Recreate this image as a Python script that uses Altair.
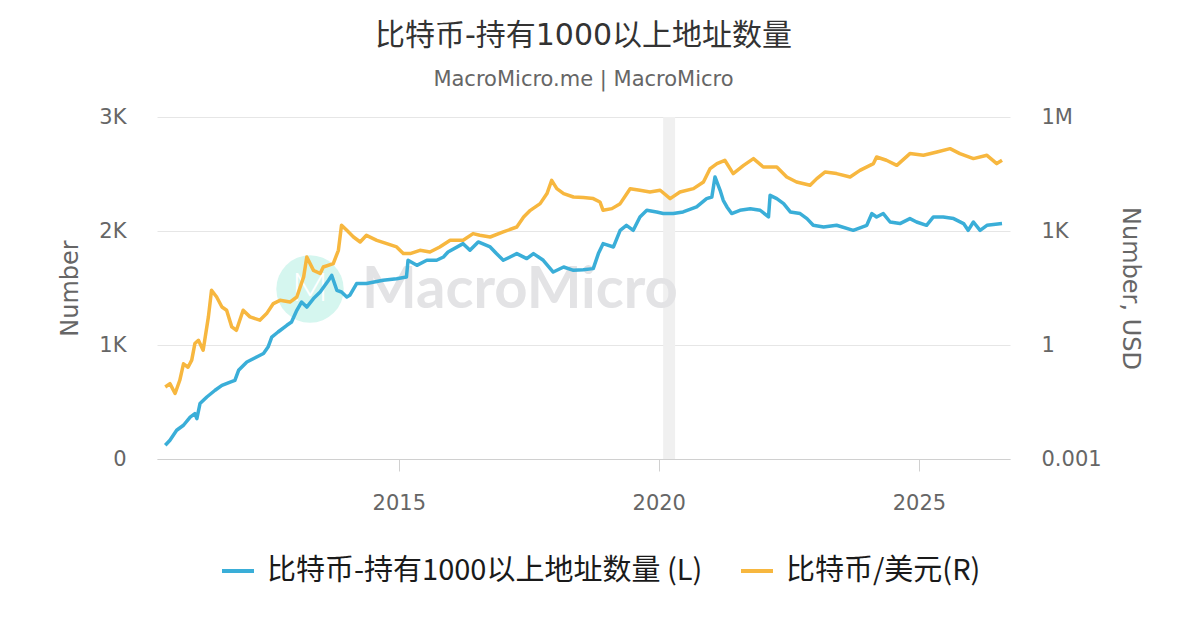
import altair as alt
import pandas as pd

# ---- data (decimal years) ----
addr_t = [2010.51, 2010.60, 2010.73, 2010.86, 2010.99, 2011.08, 2011.12, 2011.18, 2011.31, 2011.47,
          2011.60, 2011.76, 2011.85, 2011.92, 2012.08, 2012.27, 2012.40, 2012.49, 2012.56, 2012.68,
          2012.85, 2012.94, 2013.04, 2013.13, 2013.23, 2013.36, 2013.49, 2013.65, 2013.71, 2013.81,
          2013.90, 2014.00, 2014.06, 2014.19, 2014.38, 2014.70, 2014.96, 2015.15, 2015.18, 2015.35,
          2015.54, 2015.73, 2015.86, 2015.95, 2016.24, 2016.37, 2016.53, 2016.76, 2016.88, 2017.01,
          2017.14, 2017.27, 2017.46, 2017.59, 2017.78, 2017.97, 2018.17, 2018.36, 2018.55, 2018.74,
          2018.84, 2018.93, 2019.13, 2019.26, 2019.38, 2019.51, 2019.64, 2019.77, 2019.96, 2020.09,
          2020.28, 2020.47, 2020.73, 2020.92, 2021.02, 2021.08, 2021.18, 2021.24, 2021.31, 2021.40,
          2021.56, 2021.76, 2021.95, 2022.11, 2022.14, 2022.27, 2022.40, 2022.53, 2022.72, 2022.85,
          2022.97, 2023.17, 2023.42, 2023.74, 2024.00, 2024.10, 2024.19, 2024.32, 2024.45, 2024.64,
          2024.83, 2024.96, 2025.15, 2025.28, 2025.47, 2025.67, 2025.86, 2025.95, 2026.05, 2026.18,
          2026.31, 2026.60]
addr_v = [120, 164, 252, 296, 368, 398, 354, 486, 544, 603,
          646, 675, 690, 778, 851, 895, 925, 982, 1070, 1114,
          1173, 1202, 1304, 1377, 1333, 1407, 1465, 1568, 1611, 1480,
          1465, 1421, 1436, 1539, 1539, 1568, 1582, 1596, 1743, 1699,
          1743, 1743, 1772, 1816, 1889, 1831, 1904, 1860, 1802, 1743,
          1772, 1802, 1758, 1802, 1743, 1640, 1684, 1655, 1661, 1670,
          1802, 1889, 1860, 2006, 2050, 2006, 2123, 2182, 2167, 2153,
          2153, 2167, 2211, 2284, 2298, 2474, 2357, 2269, 2211, 2153,
          2182, 2196, 2182, 2123, 2313, 2284, 2240, 2167, 2153, 2109,
          2050, 2035, 2050, 2006, 2050, 2153, 2123, 2153, 2079, 2065,
          2109, 2079, 2050, 2123, 2123, 2109, 2065, 2006, 2079, 2006,
          2050, 2065]

price_t = [2010.51, 2010.60, 2010.70, 2010.79, 2010.86, 2010.95, 2011.02, 2011.08, 2011.15, 2011.24,
           2011.34, 2011.40, 2011.50, 2011.60, 2011.69, 2011.79, 2011.88, 2012.01, 2012.14, 2012.33,
           2012.46, 2012.59, 2012.72, 2012.91, 2013.04, 2013.17, 2013.23, 2013.36, 2013.49, 2013.55,
           2013.74, 2013.84, 2013.90, 2014.00, 2014.13, 2014.26, 2014.38, 2014.58, 2014.77, 2014.96,
           2015.09, 2015.22, 2015.41, 2015.60, 2015.79, 2015.99, 2016.24, 2016.43, 2016.56, 2016.76,
           2017.01, 2017.27, 2017.40, 2017.53, 2017.72, 2017.85, 2017.94, 2018.04, 2018.17, 2018.36,
           2018.55, 2018.74, 2018.87, 2018.93, 2019.10, 2019.26, 2019.45, 2019.64, 2019.83, 2020.03,
           2020.22, 2020.41, 2020.67, 2020.86, 2020.99, 2021.12, 2021.27, 2021.43, 2021.63, 2021.82,
           2022.01, 2022.27, 2022.46, 2022.65, 2022.91, 2023.04, 2023.20, 2023.42, 2023.68, 2023.87,
           2024.13, 2024.19, 2024.38, 2024.58, 2024.83, 2025.09, 2025.35, 2025.60, 2025.79, 2026.05,
           2026.31, 2026.50, 2026.60]
price_v = [0.0785, 0.096, 0.053, 0.118, 0.32, 0.26, 0.40, 1.09, 1.33, 0.73,
           5.5, 27.5, 18.3, 10, 8.2, 3.0, 2.44, 8.2, 5.5, 4.5,
           6.7, 12.3, 15, 13.5, 18.3, 62, 207, 92, 76, 113,
           139, 310, 1410, 1040, 695, 513, 770, 569, 466, 380,
           254, 254, 310, 280, 380, 569, 569, 855, 771, 695,
           942, 1275, 2335, 3500, 5250, 9640, 21600, 13000, 9640, 7850,
           7560, 7130, 5800, 3500, 3880, 5250, 13000, 11800, 10600, 11800,
           7130, 10600, 13000, 19500, 43900, 59400, 72600, 32400, 53500, 80300,
           48300, 48300, 26400, 19500, 15950, 23900, 35700, 32400, 26400, 39500,
           59400, 88500, 72600, 53500, 109000, 98200, 120000, 147000, 109000, 80300,
           98200, 59400, 72600]

series_names = ["比特币-持有1000以上地址数量 (L)", "比特币/美元(R)"]
series_colors = ["#3aaed8", "#f7b73f"]
band_start = ["2020-02-01"]
band_end = ["2020-04-25"]


def to_date(y):
    yr = int(y)
    d = pd.Timestamp(year=yr, month=1, day=1) + pd.Timedelta(days=(y - yr) * 365.25)
    return d.strftime("%Y-%m-%d")


addr_df = pd.DataFrame({"date": [to_date(t) for t in addr_t], "value": addr_v,
                        "series": series_names[0]})
price_df = pd.DataFrame({"date": [to_date(t) for t in price_t], "value": price_v,
                         "series": series_names[1]})
band_df = pd.DataFrame({"start": band_start, "end": band_end})

LATIN = "DejaVu Sans, Noto Sans CJK SC"
GRAY = "#666666"
X_DOMAIN = [alt.DateTime(year=2010, month=5, date=9), alt.DateTime(year=2026, month=10, date=3)]

x_enc = alt.X(
    "date:T",
    scale=alt.Scale(domain=X_DOMAIN),
    axis=alt.Axis(values=[alt.DateTime(year=2015, month=1, date=1),
                          alt.DateTime(year=2020, month=1, date=1),
                          alt.DateTime(year=2025, month=1, date=1)],
                  format="%Y", grid=False, tickSize=12, tickColor="#d0d0d0",
                  domainColor="#d0d0d0", labelPadding=21, labelFontSize=21,
                  labelColor=GRAY, labelFont=LATIN, title=None),
)

color_enc = alt.Color(
    "series:N",
    scale=alt.Scale(domain=series_names, range=series_colors),
    legend=alt.Legend(orient="none", legendX=63, legendY=436, direction="horizontal",
                      title=None, labelFontSize=29, labelFont="Noto Sans CJK SC",
                      labelColor="#1a1a1a", labelLimit=0, symbolType="stroke",
                      symbolSize=1024, symbolStrokeWidth=4, labelOffset=11, columnPadding=30),
)

band = alt.Chart(band_df).mark_rect(color="#f0f0f0").encode(
    x=alt.X("start:T", scale=alt.Scale(domain=X_DOMAIN)),
    x2="end:T",
)

wm_circle = alt.Chart(band_df).mark_circle(color="#d5f6ef", opacity=1).encode(
    x=alt.value(153), y=alt.value(172), size=alt.value(4540)
)
wm_logo = alt.Chart(band_df).mark_text(text="M", font="Lato", fontSize=40, fontWeight=300,
                                       color="#ffffff", align="center", baseline="middle").encode(
    x=alt.value(153), y=alt.value(172)
)
wm_text = alt.Chart(band_df).mark_text(text="MacroMicro", font="Lato", fontSize=58,
                                       fontWeight="bold", color="#e3e3e5", align="left",
                                       baseline="middle").encode(
    x=alt.value(205), y=alt.value(174)
)

addr_line = alt.Chart(addr_df).mark_line(strokeWidth=3.5, strokeJoin="round").encode(
    x=x_enc,
    y=alt.Y("value:Q", scale=alt.Scale(domain=[0, 3000], nice=False),
            axis=alt.Axis(orient="left", values=[0, 1000, 2000, 3000],
                          labelExpr="datum.value == 0 ? '0' : (datum.value / 1000) + 'K'",
                          title="Number", grid=True, gridColor="#e6e6e6", domain=False,
                          ticks=False, labelPadding=31, labelFontSize=21, labelColor=GRAY,
                          labelFont=LATIN, titleFont=LATIN, titleFontSize=24,
                          titleColor=GRAY, titleFontWeight="normal", titlePadding=16)),
    color=color_enc,
)

price_line = alt.Chart(price_df).mark_line(strokeWidth=3.5, strokeJoin="round").encode(
    x=x_enc,
    y=alt.Y("value:Q", scale=alt.Scale(type="log", domain=[0.001, 1000000], nice=False),
            axis=alt.Axis(orient="right", values=[0.001, 1, 1000, 1000000],
                          labelExpr="datum.value >= 1000000 ? '1M' : datum.value >= 1000 ? '1K' : datum.value >= 1 ? '1' : '0.001'",
                          title="Number, USD", grid=False, domain=False, ticks=False,
                          labelPadding=31, labelFontSize=21, labelColor=GRAY,
                          labelFont=LATIN, titleFont=LATIN, titleFontSize=24,
                          titleColor=GRAY, titleFontWeight="normal", titlePadding=16)),
    color=color_enc,
)

chart = alt.layer(band, wm_circle, wm_logo, wm_text, addr_line, price_line).resolve_scale(
    y="independent"
).properties(
    width=853, height=342,
    padding={"left": 149, "top": 109, "right": 182, "bottom": 140},
    autosize=alt.AutoSizeParams(type="none"),
    title=alt.TitleParams(text="比特币-持有1000以上地址数量",
                          subtitle="MacroMicro.me | MacroMicro",
                          font=LATIN, fontSize=30, fontWeight="normal", color="#333333",
                          subtitleFont=LATIN, subtitleFontSize=21, subtitleColor=GRAY,
                          subtitlePadding=18, anchor="middle", offset=16),
).configure(background="white").configure_view(stroke="transparent", strokeWidth=0)

chart.save("out.html", embed_options={"renderer": "svg", "actions": False})
